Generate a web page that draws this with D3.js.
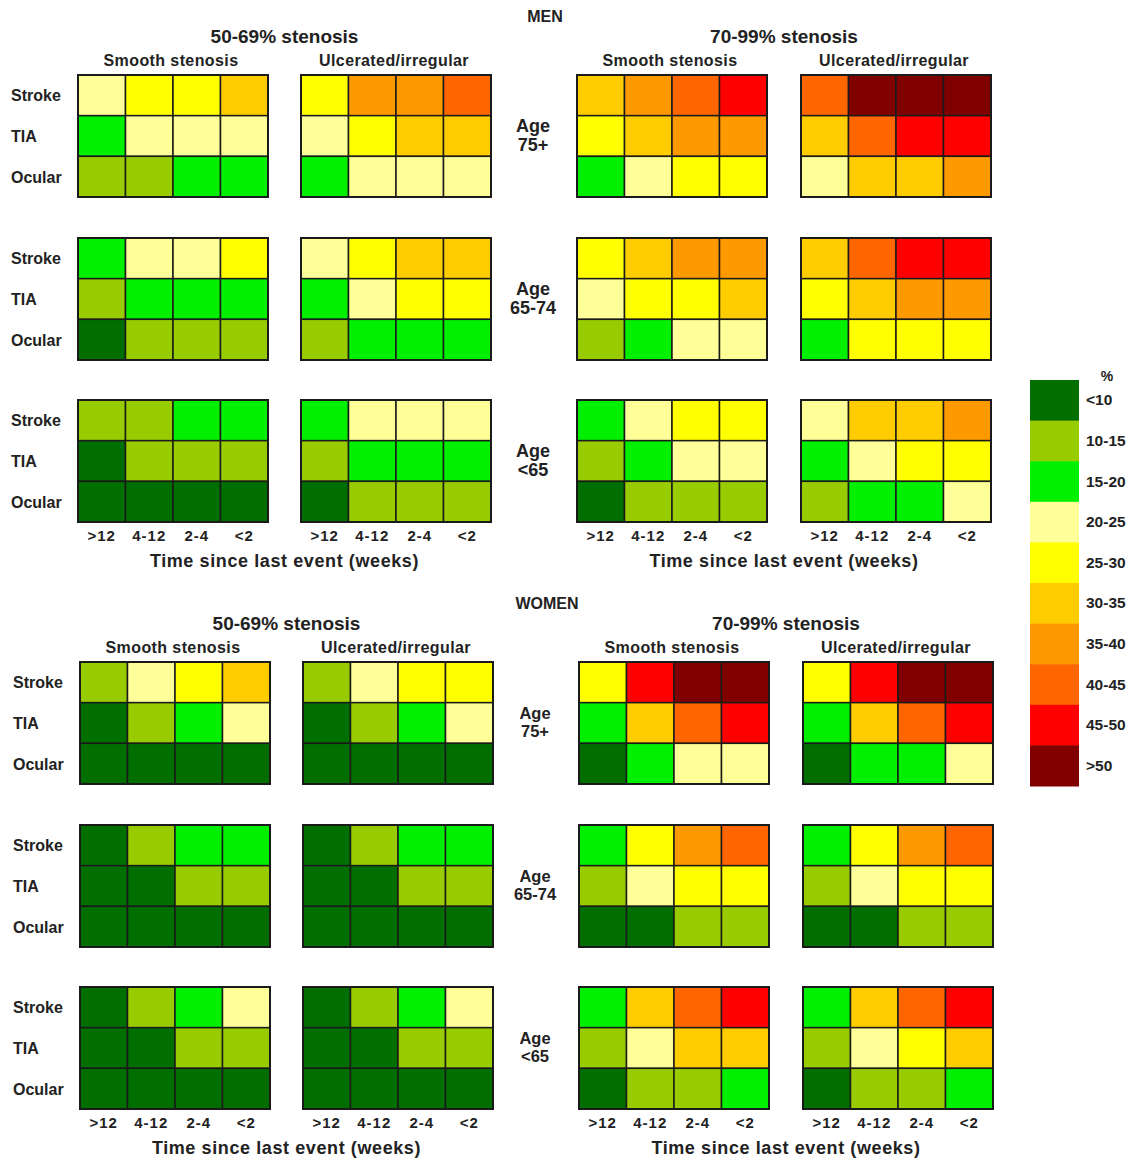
<!DOCTYPE html>
<html>
<head>
<meta charset="utf-8">
<script src="https://cdn.jsdelivr.net/npm/d3@7"></script>
<style>
  body { margin: 0; background: #fff; }
  text { font-family: "Liberation Sans", Arial, sans-serif; font-weight: bold; fill: #222; }
</style>
</head>
<body>
<div id="main"></div>
<script>
// colour classes (index into legend)
var legendColors = ["#006f00", "#99cc00", "#00f000", "#ffff99", "#ffff00",
                    "#ffcc00", "#ff9900", "#ff6600", "#ff0000", "#800000"];
var legendLabels = ["<10", "10-15", "15-20", "20-25", "25-30",
                    "30-35", "35-40", "40-45", "45-50", ">50"];
var timeLabels = [">12", "4-12", "2-4", "<2"];
var eventLabels = ["Stroke", "TIA", "Ocular"];
var ageLabels = [["Age", "75+"], ["Age", "65-74"], ["Age", "<65"]];
var sexLabels = ["MEN", "WOMEN"];
var stenosisLabels = ["50-69% stenosis", "70-99% stenosis"];
var surfaceLabels = ["Smooth stenosis", "Ulcerated/irregular"];

// each array: [age 75+, age 65-74, age <65], rows Stroke/TIA/Ocular, cols >12 .. <2
var menSmooth5069 = [
  [[3,4,4,5],[2,3,3,3],[1,1,2,2]],
  [[2,3,3,4],[1,2,2,2],[0,1,1,1]],
  [[1,1,2,2],[0,1,1,1],[0,0,0,0]]
];
var menUlcer5069 = [
  [[4,6,6,7],[3,4,5,5],[2,3,3,3]],
  [[3,4,5,5],[2,3,4,4],[1,2,2,2]],
  [[2,3,3,3],[1,2,2,2],[0,1,1,1]]
];
var menSmooth7099 = [
  [[5,6,7,8],[4,5,6,6],[2,3,4,4]],
  [[4,5,6,6],[3,4,4,5],[1,2,3,3]],
  [[2,3,4,4],[1,2,3,3],[0,1,1,1]]
];
var menUlcer7099 = [
  [[7,9,9,9],[5,7,8,8],[3,5,5,6]],
  [[5,7,8,8],[4,5,6,6],[2,4,4,4]],
  [[3,5,5,6],[2,3,4,4],[1,2,2,3]]
];
var womenSmooth5069 = [
  [[1,3,4,5],[0,1,2,3],[0,0,0,0]],
  [[0,1,2,2],[0,0,1,1],[0,0,0,0]],
  [[0,1,2,3],[0,0,1,1],[0,0,0,0]]
];
var womenUlcer5069 = [
  [[1,3,4,4],[0,1,2,3],[0,0,0,0]],
  [[0,1,2,2],[0,0,1,1],[0,0,0,0]],
  [[0,1,2,3],[0,0,1,1],[0,0,0,0]]
];
var womenSmooth7099 = [
  [[4,8,9,9],[2,5,7,8],[0,2,3,3]],
  [[2,4,6,7],[1,3,4,4],[0,0,1,1]],
  [[2,5,7,8],[1,3,5,5],[0,1,1,2]]
];
var womenUlcer7099 = [
  [[4,8,9,9],[2,5,7,8],[0,2,2,3]],
  [[2,4,6,7],[1,3,4,4],[0,0,1,1]],
  [[2,5,7,8],[1,3,4,5],[0,1,1,2]]
];

var panels = [
  [menSmooth5069, menUlcer5069, menSmooth7099, menUlcer7099],
  [womenSmooth5069, womenUlcer5069, womenSmooth7099, womenUlcer7099]
];

var W = 1132, H = 1158;
var svg = d3.select("#main").append("svg")
    .attr("width", W)
    .attr("height", H);

var color = d3.scaleOrdinal().domain(d3.range(10)).range(legendColors);

var gridW = 190, gridH = 122;
var x = d3.scaleBand().domain(timeLabels).range([0, gridW]);
var y = d3.scaleBand().domain(eventLabels).range([0, gridH]);

var gridLefts = [78, 301, 577, 801];
var ageTops = [75, 238, 400];
var sexOffset = [0, 587];
var sexShift = [0, 2];

sexLabels.forEach(function(sex, s) {
  var oy = sexOffset[s], sx = sexShift[s];
  var g = svg.append("g").attr("transform", "translate(" + sx + "," + oy + ")");

  g.append("text").attr("x", 545).attr("y", 22)
    .attr("text-anchor", "middle").style("font-size", "16px").text(sex);

  stenosisLabels.forEach(function(st, k) {
    var cx = (gridLefts[k * 2] + gridLefts[k * 2 + 1] + gridW) / 2;
    g.append("text").attr("x", cx).attr("y", 43)
      .attr("text-anchor", "middle").style("font-size", "19px").text(st);
    g.append("text").attr("x", cx).attr("y", 567)
      .attr("text-anchor", "middle").style("font-size", "18px")
      .style("letter-spacing", "0.6px")
      .text("Time since last event (weeks)");
  });

  gridLefts.forEach(function(gl, p) {
    g.append("text").attr("x", gl + gridW / 2 - 2).attr("y", 66)
      .attr("text-anchor", "middle").style("font-size", "16px")
      .style("letter-spacing", "0.4px")
      .text(surfaceLabels[p % 2]);

    var axisG = g.append("g").attr("transform", "translate(" + gl + "," + (ageTops[2] + gridH) + ")");
    axisG.selectAll("text").data(timeLabels).enter().append("text")
      .attr("x", function(d) { return x(d) + x.bandwidth() / 2; })
      .attr("y", 19)
      .attr("text-anchor", "middle").style("font-size", "15px")
      .style("letter-spacing", "1px")
      .text(function(d) { return d; });
  });

  ageTops.forEach(function(top, a) {
    // row labels
    g.selectAll(null).data(eventLabels).enter().append("text")
      .attr("x", 11)
      .attr("y", function(d) { return top + y(d) + y.bandwidth() / 2 + 6; })
      .style("font-size", "16px")
      .text(function(d) { return d; });

    var al = g.append("text").attr("x", 533).attr("y", top + 57)
      .attr("text-anchor", "middle").style("font-size", s == 0 ? "18px" : "16.5px");
    al.append("tspan").attr("x", 533).text(ageLabels[a][0]);
    al.append("tspan").attr("x", 533).attr("dy", s == 0 ? 19 : 18).text(ageLabels[a][1]);

    gridLefts.forEach(function(gl, p) {
      var rows = panels[s][p][a];
      var cells = [];
      rows.forEach(function(r, i) {
        r.forEach(function(v, j) {
          cells.push({ev: eventLabels[i], t: timeLabels[j], v: v});
        });
      });
      var gg = g.append("g").attr("transform", "translate(" + gl + "," + top + ")");
      gg.selectAll("rect").data(cells).enter().append("rect")
        .attr("x", function(d) { return x(d.t); })
        .attr("y", function(d) { return y(d.ev); })
        .attr("width", x.bandwidth())
        .attr("height", y.bandwidth())
        .attr("fill", function(d) { return color(d.v); })
        .attr("stroke", "#1a1a1a")
        .attr("stroke-width", 1.5);
      gg.append("rect")
        .attr("width", gridW).attr("height", gridH)
        .attr("fill", "none").attr("stroke", "#1a1a1a").attr("stroke-width", 2);
    });
  });
});

// legend
var ly = d3.scaleBand().domain(legendLabels).range([380, 786]);
var lg = svg.append("g");
lg.selectAll("rect").data(legendLabels).enter().append("rect")
  .attr("x", 1030)
  .attr("y", function(d) { return ly(d); })
  .attr("width", 49)
  .attr("height", ly.bandwidth() + 0.5)
  .attr("fill", function(d, i) { return color(i); });
lg.selectAll("text.lab").data(legendLabels).enter().append("text")
  .attr("class", "lab")
  .attr("x", 1086)
  .attr("y", function(d) { return ly(d) + ly.bandwidth() / 2 + 5; })
  .style("font-size", "15.5px")
  .text(function(d) { return d; });
lg.append("text").attr("x", 1107).attr("y", 381)
  .attr("text-anchor", "middle").style("font-size", "14px").text("%");
</script>
</body>
</html>
